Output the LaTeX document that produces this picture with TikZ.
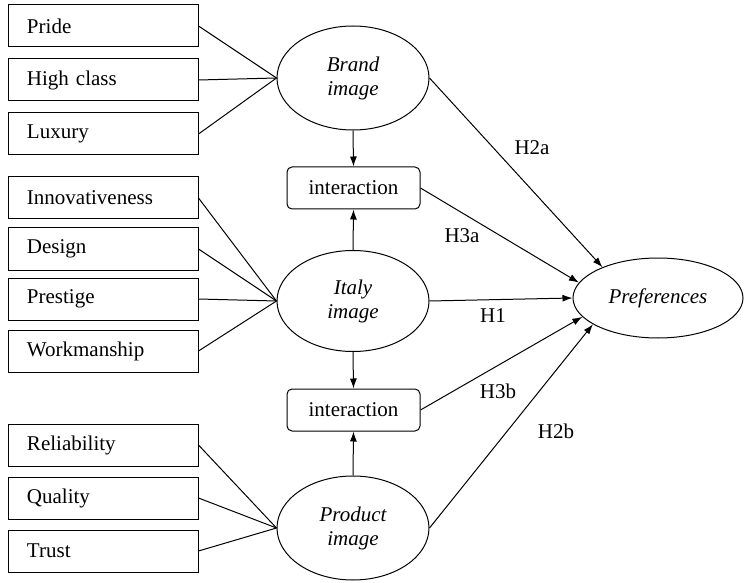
\documentclass[tikz,border=0pt]{standalone}
\usepackage{fontspec}
\setmainfont{Liberation Serif}
\usetikzlibrary{arrows.meta,shapes.geometric}

\tikzset{
	item/.style={draw, line width=1pt, minimum width=190pt, minimum height=42pt, text width=152pt, inner xsep=19pt, align=left, font=\fontsize{21}{24}\selectfont},
	factor/.style={draw, ellipse, line width=1pt, minimum width=152pt, minimum height=104pt, inner sep=0pt, align=center, font=\fontsize{21}{24}\selectfont\itshape},
	inter/.style={draw, rounded corners=5pt, line width=1pt, minimum width=133pt, minimum height=42pt, font=\fontsize{21}{24}\selectfont},
	hyp/.style={font=\fontsize{21}{24}\selectfont},
	path/.style={line width=1pt, -{Latex[length=10pt,width=7pt]}}
}

\begin{document}
\begin{tikzpicture}[x=1pt,y=-1pt]
	\useasboundingbox (0,0) rectangle (745,583);
	% latent variables
	\node [factor] (brand) at (353,78) {Brand\\image};
	\node [factor, minimum height=101pt] (italy) at (353,301) {Italy\\image};
	\node [factor] (product) at (353,528) {Product\\image};
	\node [factor, minimum width=170pt, minimum height=80pt] (pref) at (658,298) {Preferences};
	\node [inter] (int1) at (353.5,188) {interaction};
	\node [inter] (int2) at (353.5,410) {interaction};
	% indicators
	\foreach \y/\name/\txt in {26/pride/Pride, 80/high/High class, 134/luxury/Luxury}{
		\node [item] (\name) at (103,\y) {\txt};
		\draw [line width=1pt] (\name.east) -- (brand.west);
	}
	\foreach \y/\name/\txt in {198/innov/Innovativeness, 249/design/Design, 299/prestige/Prestige, 351/work/Workmanship}{
		\node [item] (\name) at (103,\y) {\txt};
		\draw [line width=1pt] (\name.east) -- (italy.west);
	}
	\foreach \y/\name/\txt in {445/reliab/Reliability, 498/quality/Quality, 551/trust/Trust}{
		\node [item] (\name) at (103,\y) {\txt};
		\draw [line width=1pt] (\name.east) -- (product.west);
	}
	% interactions
	\draw [path] (brand.south) -- (int1.north);
	\draw [path] (italy.north) -- (int1.south);
	\draw [path] (italy.south) -- (int2.north);
	\draw [path] (product.north) -- (int2.south);
	% hypotheses
	\draw [path] (brand.east) -- (pref.151.8);
	\draw [path] (int1.east) -- (pref.169);
	\draw [path] (italy.east) -- (pref.west);
	\draw [path] (int2.east) -- (pref.194);
	\draw [path] (product.east) -- (pref.202);
	\node [hyp] (h2a) at (532,148) {H2a};
	\node [hyp] (h3a) at (462,236) {H3a};
	\node [hyp] (h1) at (493,316) {H1};
	\node [hyp] (h3b) at (498,391) {H3b};
	\node [hyp] (h2b) at (556,431) {H2b};
\end{tikzpicture}
\end{document}
